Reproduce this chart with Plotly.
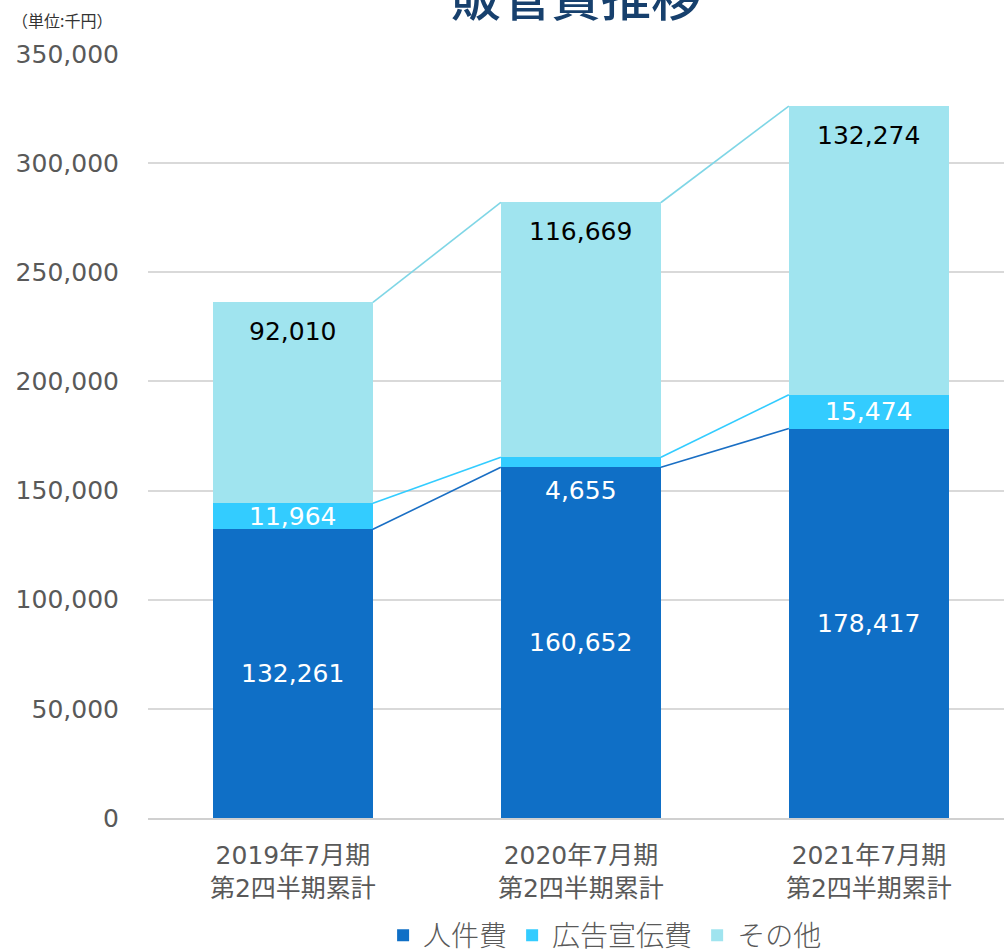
import plotly.graph_objects as go

categories = ["2019年7月期<br>第2四半期累計", "2020年7月期<br>第2四半期累計", "2021年7月期<br>第2四半期累計"]
personnel = [132261, 160652, 178417]
advertising = [11964, 4655, 15474]
other = [92010, 116669, 132274]
series_names = ["人件費", "広告宣伝費", "その他"]
y_ticks = [0, 50000, 100000, 150000, 200000, 250000, 300000, 350000]

colors = ["#0F6FC6", "#33CCFF", "#A0E4EF"]
line_colors = ["#1A6FC4", "#33CCFF", "#7FD6E6"]
FONT = "DejaVu Sans, Noto Sans CJK JP"
CJK = "Noto Sans CJK JP"
BAR_W = 0.556

xs = list(range(len(categories)))
fig = go.Figure()
for name, vals, c in zip(series_names, [personnel, advertising, other], colors):
    fig.add_trace(go.Bar(x=xs, y=vals, name=name, marker=dict(color=c, line=dict(width=0)),
                         width=BAR_W, hoverinfo="skip"))

lvl1 = personnel
lvl2 = [a + b for a, b in zip(personnel, advertising)]
lvl3 = [a + b for a, b in zip(lvl2, other)]
for lvl, lc in zip([lvl1, lvl2, lvl3], line_colors):
    for i in range(len(xs) - 1):
        fig.add_trace(go.Scatter(x=[xs[i] + BAR_W / 2, xs[i + 1] - BAR_W / 2], y=[lvl[i], lvl[i + 1]],
                                 mode="lines", line=dict(color=lc, width=1.6), showlegend=False,
                                 hoverinfo="skip"))

lab_font = dict(size=25, family=FONT)
annos = []
for i in xs:
    annos.append(dict(x=i, y=personnel[i] / 2, text=f"{personnel[i]:,}", showarrow=False,
                      font=dict(color="white", **lab_font)))
    shift = -28 if advertising[i] < 8000 else 0
    annos.append(dict(x=i, y=personnel[i] + advertising[i] / 2, text=f"{advertising[i]:,}", showarrow=False,
                      yshift=shift, font=dict(color="white", **lab_font)))
    annos.append(dict(x=i, y=lvl3[i], text=f"{other[i]:,}", showarrow=False, yshift=-29,
                      font=dict(color="black", **lab_font)))

annos.append(dict(xref="paper", yref="paper", x=0.5, y=1, yshift=60, yanchor="middle", xanchor="center",
                  text="販管費推移", showarrow=False, font=dict(color="#17406D", size=50, family=CJK, weight=500)))
annos.append(dict(xref="paper", yref="paper", x=-0.161, y=1, yshift=34, yanchor="middle", xanchor="left",
                  text="（単位:千円）", showarrow=False, font=dict(color="#333333", size=16, family=CJK)))

fig.update_layout(
    barmode="stack",
    width=1004, height=951,
    margin=dict(l=148, r=0, t=54, b=133, autoexpand=False),
    paper_bgcolor="white", plot_bgcolor="white",
    font=dict(family=FONT, color="#595959"),
    annotations=annos,
    legend=dict(orientation="h", x=0.534, xanchor="center", y=-0.154, yanchor="middle",
                font=dict(size=28, color="#595959", family=CJK, weight=300), itemsizing="constant",
                traceorder="normal", itemwidth=30),
    xaxis=dict(range=[-0.503, 2.469], tickmode="array", tickvals=xs, ticktext=categories, automargin=False,
               tickfont=dict(size=25, color="#595959", family=FONT), showgrid=False, ticklabelstandoff=14,
               showline=True, linecolor="#D0D0D0", linewidth=2, ticks="", zeroline=False),
    yaxis=dict(range=[0, 350000], tickmode="array", tickvals=y_ticks, automargin=False,
               ticktext=[f"{v:,}" for v in y_ticks], tickfont=dict(size=25, color="#595959", family=FONT),
               showgrid=True, gridcolor="#D9D9D9", gridwidth=2, zeroline=False, ticklabelstandoff=28),
)
fig.write_html("out.html", config={"displayModeBar": False},
               post_script="document.body.style.margin='0';")
